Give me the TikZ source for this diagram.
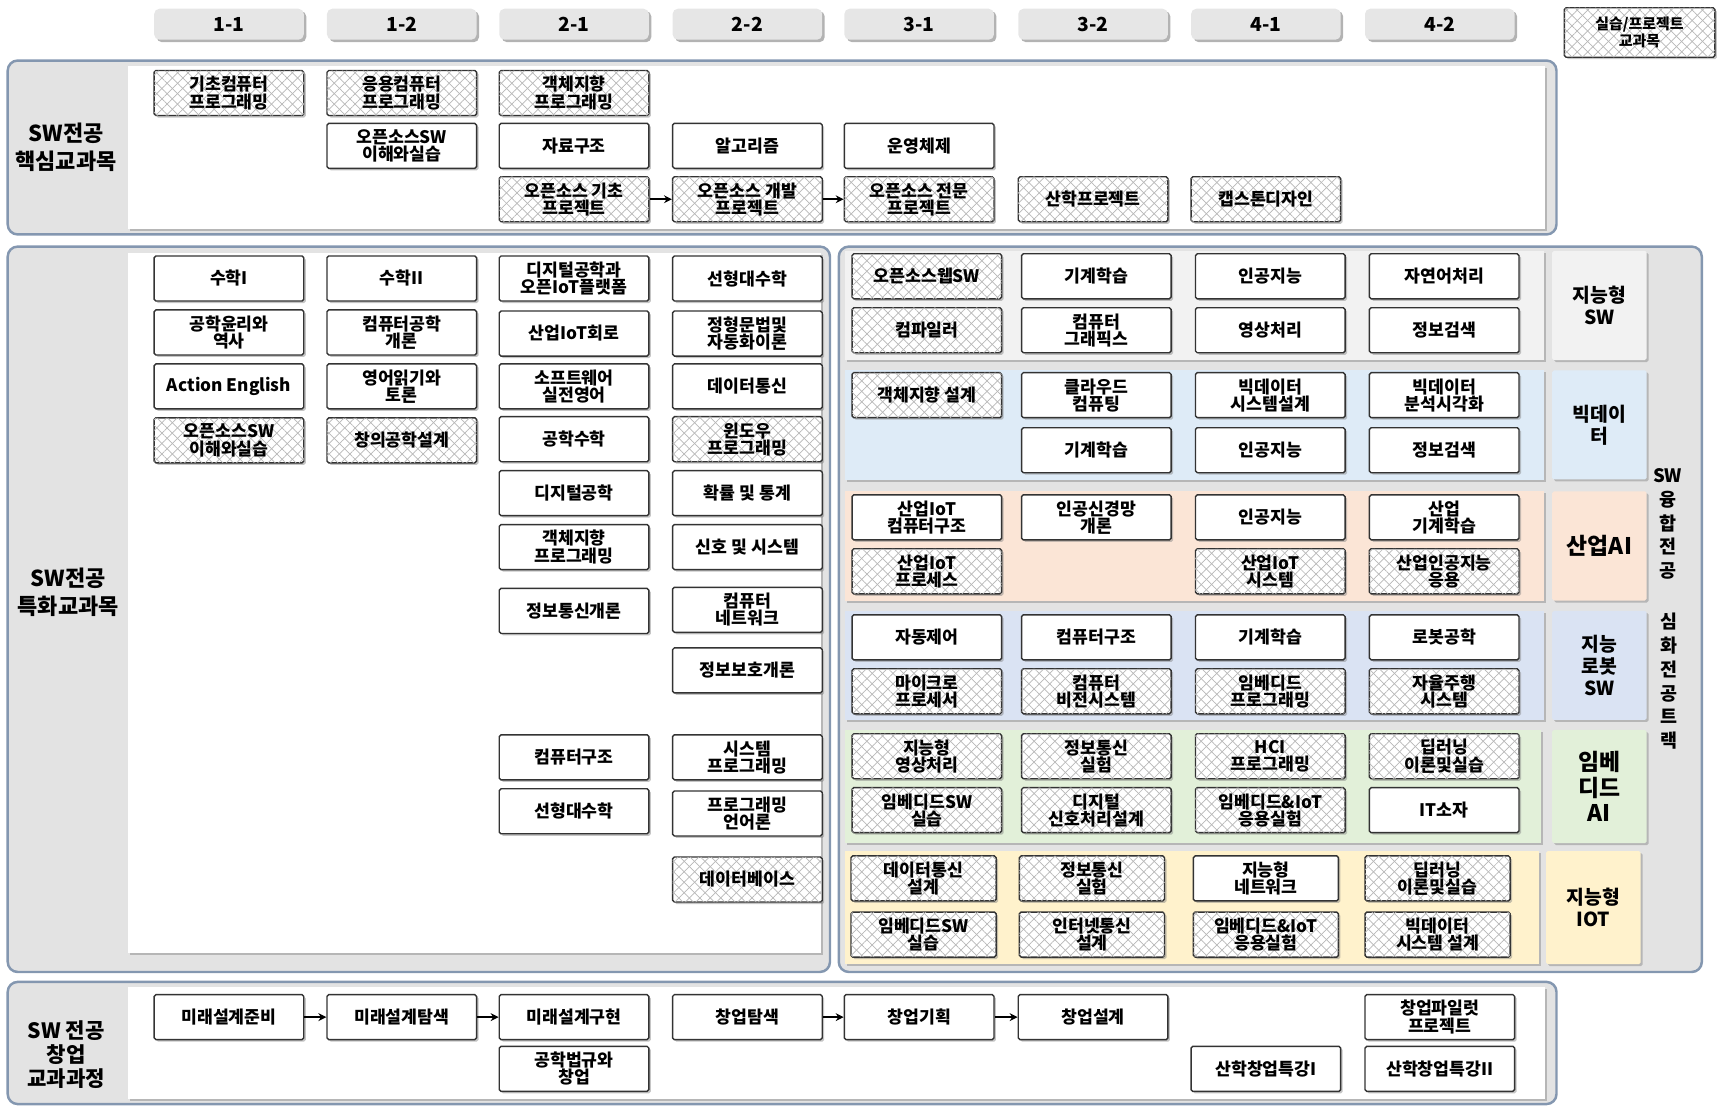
\documentclass[tikz,border=0pt]{standalone}
\usepackage{fontspec}
\setmainfont{Noto Sans CJK KR}
\usepackage{tikz}
\usetikzlibrary{arrows.meta,positioning,patterns.meta,shadows}
\definecolor{edge}{HTML}{8497B0}
\definecolor{panelgray}{HTML}{E3E3E3}
\definecolor{tabgray}{HTML}{E6E6E6}
\definecolor{isw}{HTML}{F2F2F2}
\definecolor{bigd}{HTML}{DEEBF7}
\definecolor{indai}{HTML}{FBE5D6}
\definecolor{robot}{HTML}{DAE3F3}
\definecolor{embai}{HTML}{E2F0D9}
\definecolor{iiot}{HTML}{FFF2CC}
\tikzset{
  shade/.style={drop shadow={shadow xshift=0.4mm, shadow yshift=-0.4mm, opacity=0.45}},
  box/.style={rectangle, rounded corners=1pt, draw=black!80, fill=white, line width=0.8pt,
              align=center, inner sep=1pt, minimum width=29.9mm, minimum height=9mm,
              font=\fontsize{9.8}{9.8}\selectfont\bfseries, shade},
  hbox/.style={box,
              postaction={pattern color=black!28, pattern={Lines[angle=45,distance=4.2pt,line width=0.4pt]}},
              postaction={pattern color=black!28, pattern={Lines[angle=-45,distance=4.2pt,line width=0.4pt]}}},
  tab/.style={rectangle, rounded corners=3pt, fill=tabgray, minimum width=29.9mm, minimum height=6.2mm,
              font=\fontsize{11}{12}\selectfont\bfseries, drop shadow={shadow xshift=0.5mm, shadow yshift=-0.5mm, opacity=0.6}},
  sidelbl/.style={align=center, font=\fontsize{12.5}{16}\selectfont\bfseries},
  trklbl/.style={rectangle, rounded corners=1pt, align=center, minimum width=18.9mm, minimum height=21.8mm,
              font=\fontsize{11}{12.5}\selectfont\bfseries, shade},
  vlbl/.style={align=center, font=\fontsize{10.5}{13.5}\selectfont\bfseries},
  panel/.style={rounded corners=2mm, draw=edge, line width=1.4pt, fill=panelgray},
  sheet/.style={fill=white, shade},
  band/.style={shade},
  flow/.style={-{Stealth[length=4.5pt,width=4.5pt]}, draw=black, line width=0.9pt}
}
\begin{document}
\begin{tikzpicture}[x=0.22mm, y=-0.22mm]
  \useasboundingbox (0,0) rectangle (1568,1015);

  % semester tabs
  \node[tab] (t11) at (208,22) {1-1};
  \node[tab] (t12) at (365,22) {1-2};
  \node[tab] (t21) at (521.5,22) {2-1};
  \node[tab] (t22) at (679,22) {2-2};
  \node[tab] (t31) at (835,22) {3-1};
  \node[tab] (t32) at (993,22) {3-2};
  \node[tab] (t41) at (1150,22) {4-1};
  \node[tab] (t42) at (1308,22) {4-2};
  \node[hbox, minimum width=30.1mm, minimum height=9.9mm, font=\fontsize{8.5}{9.5}\selectfont\bfseries] (legend) at (1489.5,29.5) {실습/프로젝트\\교과목};

  % core courses
  \draw[panel] (7,55) rectangle (1414,213);
  \fill[sheet] (116,60) rectangle (1404,208);
  \node[sidelbl] (corelbl) at (60,134) {SW전공\\핵심교과목};
  \node[hbox] (k11a) at (208,84.5) {기초컴퓨터\\프로그래밍};
  \node[hbox] (k12a) at (365,84.5) {응용컴퓨터\\프로그래밍};
  \node[box]  (k12b) at (365,132.5) {오픈소스SW\\이해와실습};
  \node[hbox] (k21a) at (521.5,84.5) {객체지향\\프로그래밍};
  \node[box]  (k21b) at (521.5,132.5) {자료구조};
  \node[hbox] (k21c) at (521.5,181) {오픈소스 기초\\프로젝트};
  \node[box]  (k22b) at (679,132.5) {알고리즘};
  \node[hbox] (k22c) at (679,181) {오픈소스 개발\\프로젝트};
  \node[box]  (k31b) at (835,132.5) {운영체제};
  \node[hbox] (k31c) at (835,181) {오픈소스 전문\\프로젝트};
  \node[hbox] (k32c) at (993,181) {산학프로젝트};
  \node[hbox] (k41c) at (1150,181) {캡스톤디자인};
  \draw[flow] (k21c) -- (k22c);
  \draw[flow] (k22c) -- (k31c);

  % specialised courses
  \draw[panel] (7,224) rectangle (754,883);
  \fill[sheet] (116,230) rectangle (746,866);
  \node[sidelbl] (speclbl) at (62,538) {SW전공\\특화교과목};
  \node[box]  (s11a) at (208,253) {수학I};
  \node[box]  (s11b) at (208,302) {공학윤리와\\역사};
  \node[box]  (s11c) at (208,351) {Action English};
  \node[hbox] (s11d) at (208,400) {오픈소스SW\\이해와실습};
  \node[box]  (s12a) at (365,253) {수학II};
  \node[box]  (s12b) at (365,302) {컴퓨터공학\\개론};
  \node[box]  (s12c) at (365,351) {영어읽기와\\토론};
  \node[hbox] (s12d) at (365,400) {창의공학설계};
  \node[box]  (s21a) at (521.5,253) {디지털공학과\\오픈IoT플랫폼};
  \node[box]  (s21b) at (521.5,303) {산업IoT회로};
  \node[box]  (s21c) at (521.5,351) {소프트웨어\\실전영어};
  \node[box]  (s21d) at (521.5,399) {공학수학};
  \node[box]  (s21e) at (521.5,448) {디지털공학};
  \node[box]  (s21f) at (521.5,497) {객체지향\\프로그래밍};
  \node[box]  (s21g) at (521.5,555) {정보통신개론};
  \node[box]  (s21h) at (521.5,688) {컴퓨터구조};
  \node[box]  (s21i) at (521.5,737) {선형대수학};
  \node[box]  (s22a) at (679,253) {선형대수학};
  \node[box]  (s22b) at (679,303) {정형문법및\\자동화이론};
  \node[box]  (s22c) at (679,351) {데이터통신};
  \node[hbox] (s22d) at (679,399) {윈도우\\프로그래밍};
  \node[box]  (s22e) at (679,448) {확률 및 통계};
  \node[box]  (s22f) at (679,497) {신호 및 시스템};
  \node[box]  (s22g) at (679,554) {컴퓨터\\네트워크};
  \node[box]  (s22h) at (679,609) {정보보호개론};
  \node[box]  (s22i) at (679,688) {시스템\\프로그래밍};
  \node[box]  (s22j) at (679,739) {프로그래밍\\언어론};
  \node[hbox] (s22k) at (679,799) {데이터베이스};

  % convergence tracks
  \draw[panel] (762,224) rectangle (1546,883);
  \fill[band, isw]   (768,228) rectangle (1403,327);
  \fill[band, bigd]  (768,336) rectangle (1403,436);
  \fill[band, indai] (768,446) rectangle (1403,546);
  \fill[band, robot] (768,555) rectangle (1403,654);
  \fill[band, embai] (768,663) rectangle (1400,766);
  \fill[band, iiot]  (768,773) rectangle (1398,876);
  \node[trklbl, fill=isw] (lisw) at (1453,277.5) {지능형\\SW};
  \node[trklbl, fill=bigd] (lbigd) at (1453,386) {빅데이\\터};
  \node[trklbl, fill=indai, font=\fontsize{13}{14}\selectfont\bfseries] (lindai) at (1453,496) {산업AI};
  \node[trklbl, fill=robot] (lrobot) at (1453,604.5) {지능\\로봇\\SW};
  \node[trklbl, fill=embai, minimum height=22.6mm, font=\fontsize{13}{14.5}\selectfont\bfseries] (lembai) at (1453,714.5) {임베\\디드\\AI};
  \node[trklbl, fill=iiot, minimum height=22.6mm] (liiot) at (1447.5,824.5) {지능형\\IOT};
  \node[vlbl] (vtop) at (1515,476) {SW\\융\\합\\전\\공};
  \node[vlbl] (vbot) at (1516,619) {심\\화\\전\\공\\트\\랙};

  \node[hbox] (w1a) at (842,251) {오픈소스웹SW};
  \node[box]  (w2a) at (996,251) {기계학습};
  \node[box]  (w3a) at (1154,251) {인공지능};
  \node[box]  (w4a) at (1312,251) {자연어처리};
  \node[hbox] (w1b) at (842,300) {컴파일러};
  \node[box]  (w2b) at (996,300) {컴퓨터\\그래픽스};
  \node[box]  (w3b) at (1154,300) {영상처리};
  \node[box]  (w4b) at (1312,300) {정보검색};

  \node[hbox] (b1a) at (842,359) {객체지향 설계};
  \node[box]  (b2a) at (996,359) {클라우드\\컴퓨팅};
  \node[box]  (b3a) at (1154,359) {빅데이터\\시스템설계};
  \node[box]  (b4a) at (1312,359) {빅데이터\\분석시각화};
  \node[box]  (b2b) at (996,409) {기계학습};
  \node[box]  (b3b) at (1154,409) {인공지능};
  \node[box]  (b4b) at (1312,409) {정보검색};

  \node[box]  (a1a) at (842,470) {산업IoT\\컴퓨터구조};
  \node[box]  (a2a) at (996,470) {인공신경망\\개론};
  \node[box]  (a3a) at (1154,470) {인공지능};
  \node[box]  (a4a) at (1312,470) {산업\\기계학습};
  \node[hbox] (a1b) at (842,519) {산업IoT\\프로세스};
  \node[hbox] (a3b) at (1154,519) {산업IoT\\시스템};
  \node[hbox] (a4b) at (1312,519) {산업인공지능\\응용};

  \node[box]  (r1a) at (842,579) {자동제어};
  \node[box]  (r2a) at (996,579) {컴퓨터구조};
  \node[box]  (r3a) at (1154,579) {기계학습};
  \node[box]  (r4a) at (1312,579) {로봇공학};
  \node[hbox] (r1b) at (842,628) {마이크로\\프로세서};
  \node[hbox] (r2b) at (996,628) {컴퓨터\\비전시스템};
  \node[hbox] (r3b) at (1154,628) {임베디드\\프로그래밍};
  \node[hbox] (r4b) at (1312,628) {자율주행\\시스템};

  \node[hbox] (e1a) at (842,687) {지능형\\영상처리};
  \node[hbox] (e2a) at (996,687) {정보통신\\실험};
  \node[hbox] (e3a) at (1154,687) {HCI\\프로그래밍};
  \node[hbox] (e4a) at (1312,687) {딥러닝\\이론및실습};
  \node[hbox] (e1b) at (842,736) {임베디드SW\\실습};
  \node[hbox] (e2b) at (996,736) {디지털\\신호처리설계};
  \node[hbox] (e3b) at (1154,736) {임베디드\&IoT\\응용실험};
  \node[box]  (e4b) at (1312,736) {IT소자};

  \node[hbox, minimum width=29mm] (i1a) at (839,798) {데이터통신\\설계};
  \node[hbox, minimum width=29mm] (i2a) at (992,798) {정보통신\\실험};
  \node[box,  minimum width=29mm] (i3a) at (1150,798) {지능형\\네트워크};
  \node[hbox, minimum width=29mm] (i4a) at (1306,798) {딥러닝\\이론및실습};
  \node[hbox, minimum width=29mm] (i1b) at (839,849) {임베디드SW\\실습};
  \node[hbox, minimum width=29mm] (i2b) at (992,849) {인터넷통신\\설계};
  \node[hbox, minimum width=29mm] (i3b) at (1150,849) {임베디드\&IoT\\응용실험};
  \node[hbox, minimum width=29mm] (i4b) at (1306,849) {빅데이터\\시스템 설계};

  % start-up curriculum
  \draw[panel] (7,892) rectangle (1414,1003);
  \fill[sheet] (116,897) rectangle (1404,998);
  \node[sidelbl, font=\fontsize{12}{13.5}\selectfont\bfseries] (startlbl) at (60,958) {SW 전공\\창업\\교과과정};
  \node[box] (u11) at (208,924) {미래설계준비};
  \node[box] (u12) at (365,924) {미래설계탐색};
  \node[box] (u21) at (521.5,924) {미래설계구현};
  \node[box] (u21b) at (521.5,971) {공학법규와\\창업};
  \node[box] (u22) at (679,924) {창업탐색};
  \node[box] (u31) at (835,924) {창업기획};
  \node[box] (u32) at (993,924) {창업설계};
  \node[box] (u41b) at (1150,971) {산학창업특강I};
  \node[box] (u42) at (1308,924) {창업파일럿\\프로젝트};
  \node[box] (u42b) at (1308,971) {산학창업특강II};
  \draw[flow] (u11) -- (u12);
  \draw[flow] (u12) -- (u21);
  \draw[flow] (u22) -- (u31);
  \draw[flow] (u31) -- (u32);
\end{tikzpicture}
\end{document}
